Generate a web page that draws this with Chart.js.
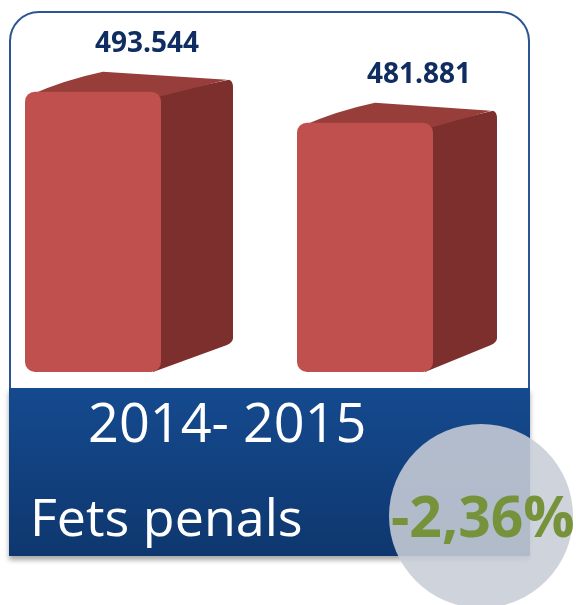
<!DOCTYPE html>
<html>
<head>
<meta charset="utf-8">
<script src="https://cdn.jsdelivr.net/npm/chart.js@4"></script>
<style>
  html, body { margin: 0; padding: 0; background: #fff; }
  body { width: 576px; height: 605px; position: relative; overflow: hidden; font-family: "Open Sans", sans-serif; }
  #frame { position: absolute; left: 9px; top: 11px; width: 521px; height: 390px; border: 2px solid #2b5592; border-radius: 30px 30px 0 0; background: #fff; box-sizing: border-box; }
  #wrap { position: absolute; left: 0; top: 0; width: 576px; height: 388px; }
  #band { position: absolute; left: 9px; top: 388px; width: 521px; height: 168px; background: linear-gradient(#154a8f, #0e376e); box-shadow: 0 4px 5px rgba(0,0,0,0.35); }
  .txt { position: absolute; color: #fff; line-height: 1; white-space: nowrap; }
  #years { left: 88px; top: 394px; font-size: 54px; }
  #title { left: 30px; top: 490px; font-size: 52px; }
  #circle { position: absolute; left: 389px; top: 424px; width: 184px; height: 184px; border-radius: 50%; background: rgba(200,205,214,0.88); }
  #change { left: 391px; top: 487px; font-size: 57px; font-weight: 700; color: #76933c; }
</style>
</head>
<body>
<div id="frame"></div>
<div id="wrap"><canvas id="chart" width="576" height="388"></canvas></div>
<div id="band"></div>
<div class="txt" id="years"></div>
<div class="txt" id="title"></div>
<div id="circle"></div>
<div class="txt" id="change"></div>
<script>
const years = ['2014', '2015'];
const fets = [493544, 481881];
const title = 'Fets penals';
const change = '-2,36%';
const yMin = 388000;
const yMax = 513000;

document.getElementById('years').textContent = years[0] + '- ' + years[1];
document.getElementById('title').textContent = title;
document.getElementById('change').textContent = change;

const fmt = v => String(v).replace(/\B(?=(\d{3})+(?!\d))/g, '.');

// fake 3D: side and top faces drawn from each bar's own geometry
const box3d = {
  id: 'box3d',
  beforeDatasetsDraw(chart) {
    const ctx = chart.ctx;
    chart.getDatasetMeta(0).data.forEach((bar, i) => {
      const { x, y, base, width } = bar.getProps(['x', 'y', 'base', 'width'], true);
      const l = x - width / 2, r = x + width / 2, dx = i === 0 ? 72 : 64, dy = -14;
      ctx.save();
      ctx.fillStyle = '#7d2f2d';
      ctx.beginPath();
      ctx.moveTo(r - 8, y + 4);
      ctx.lineTo(r + dx - 4, y + dy + 2);
      ctx.quadraticCurveTo(r + dx, y + dy + 3, r + dx, y + dy + 10);
      ctx.lineTo(r + dx, base - 34);
      ctx.quadraticCurveTo(r + dx, base - 30, r + dx - 6, base - 27);
      ctx.lineTo(r - 8, base);
      ctx.closePath();
      ctx.fill();
      ctx.fillStyle = '#973d3a';
      ctx.beginPath();
      ctx.moveTo(l + 6, y + 3);
      ctx.quadraticCurveTo(l + 40, y - 12, l + 78, y + dy - 6);
      ctx.lineTo(r + dx - 6, y + dy + 2);
      ctx.lineTo(r - 6, y + 6);
      ctx.closePath();
      ctx.fill();
      ctx.restore();
    });
  },
  afterDatasetsDraw(chart) {
    const ctx = chart.ctx;
    ctx.save();
    ctx.font = 'bold 28px "Open Sans"';
    ctx.fillStyle = '#102d62';
    ctx.textAlign = 'center';
    ctx.textBaseline = 'alphabetic';
    chart.getDatasetMeta(0).data.forEach((bar, i) => {
      ctx.fillText(fmt(fets[i]), bar.x + 54, bar.y - 40);
    });
    ctx.restore();
  }
};

new Chart(document.getElementById('chart'), {
  type: 'bar',
  data: {
    labels: years,
    datasets: [{
      data: fets,
      base: yMin,
      backgroundColor: '#c0504d',
      borderRadius: 10,
      borderSkipped: false,
      barPercentage: 0.5,
      categoryPercentage: 1,
      clip: false
    }]
  },
  options: {
    responsive: false,
    animation: false,
    events: [],
    layout: { padding: { left: 93, right: 211, top: 40, bottom: 16 } },
    plugins: { legend: { display: false }, tooltip: { enabled: false } },
    scales: {
      x: { display: false, offset: false },
      y: { display: false, min: yMin, max: yMax }
    }
  },
  plugins: [box3d]
});
</script>
</body>
</html>
